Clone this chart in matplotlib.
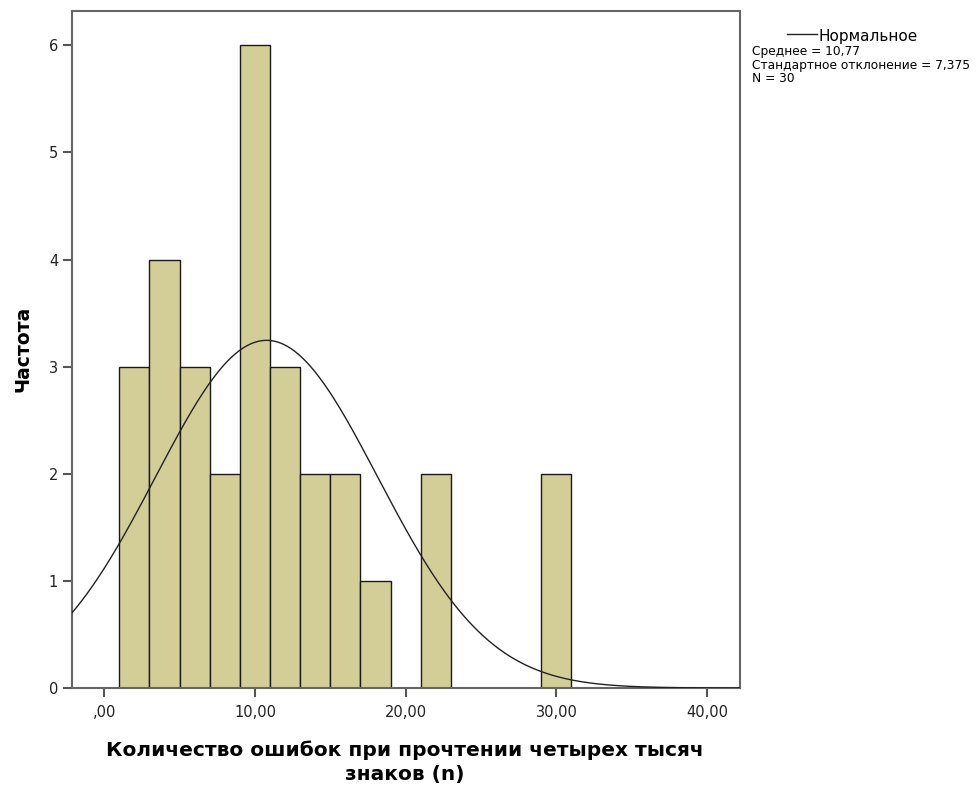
import numpy as np
import matplotlib.pyplot as plt

# Гистограмма: левые границы интервалов (ширина 2) и частоты
bin_left = [1, 3, 5, 7, 9, 11, 13, 15, 17, 19, 21, 23, 25, 27, 29]
counts = [3, 4, 3, 2, 6, 3, 2, 2, 1, 0, 2, 0, 0, 0, 2]
bin_width = 2

mean = 10.77
std = 7.375
n = 30

x_ticks = [0, 10, 20, 30, 40]
x_tick_labels = [",00", "10,00", "20,00", "30,00", "40,00"]
y_ticks = [0, 1, 2, 3, 4, 5, 6]

plt.rcParams['font.family'] = ['DejaVu Sans']

fig = plt.figure(figsize=(9.79, 7.85), dpi=100)
ax = fig.add_axes([72 / 979, 1 - 688 / 785, (740 - 72) / 979, (688 - 11) / 785])

ax.bar(bin_left, counts, width=bin_width, align='edge', color='#D3CE97',
       edgecolor='#1a1a1a', linewidth=1.0, zorder=2)

# нормальная кривая, масштабированная на N * ширину интервала
xs = np.linspace(-2.14, 42.18, 400)
ys = n * bin_width / (std * np.sqrt(2 * np.pi)) * np.exp(-0.5 * ((xs - mean) / std) ** 2)
ax.plot(xs, ys, color='#222222', linewidth=1.0, zorder=3)

ax.set_xlim(-2.14, 42.18)
ax.set_ylim(0, 6.32)
ax.set_xticks(x_ticks)
ax.set_xticklabels(x_tick_labels)
ax.set_yticks(y_ticks)
ax.tick_params(axis='both', direction='out', length=6.5, width=1.5, color='#555555',
               labelsize=10.5, labelcolor='#222222')
ax.tick_params(axis='x', pad=6)
ax.tick_params(axis='y', pad=3.5)
for s in ax.spines.values():
    s.set_color('#666666')
    s.set_linewidth(1.5)

fig.text(405 / 979, 1 - 762 / 785, "Количество ошибок при прочтении четырех тысяч\nзнаков (n)",
         ha='center', va='center', fontsize=14.5, fontweight='bold', linespacing=1.3)
fig.text(23 / 979, 1 - 349 / 785, "Частота", rotation=90, ha='center', va='center',
         fontsize=13.5, fontweight='bold')

# легенда
fig.add_artist(plt.Line2D([787 / 979, 817 / 979], [1 - 34 / 785, 1 - 34 / 785],
                          color='#222222', linewidth=1.0))
fig.text(818 / 979, 1 - 36 / 785, "Нормальное", ha='left', va='center', fontsize=11)
fig.text(752 / 979, 1 - 45 / 785, "Среднее = 10,77\nСтандартное отклонение = 7,375\nN = 30",
         ha='left', va='top', fontsize=8.8, linespacing=1.05)

fig.savefig('out.png', dpi=100)
